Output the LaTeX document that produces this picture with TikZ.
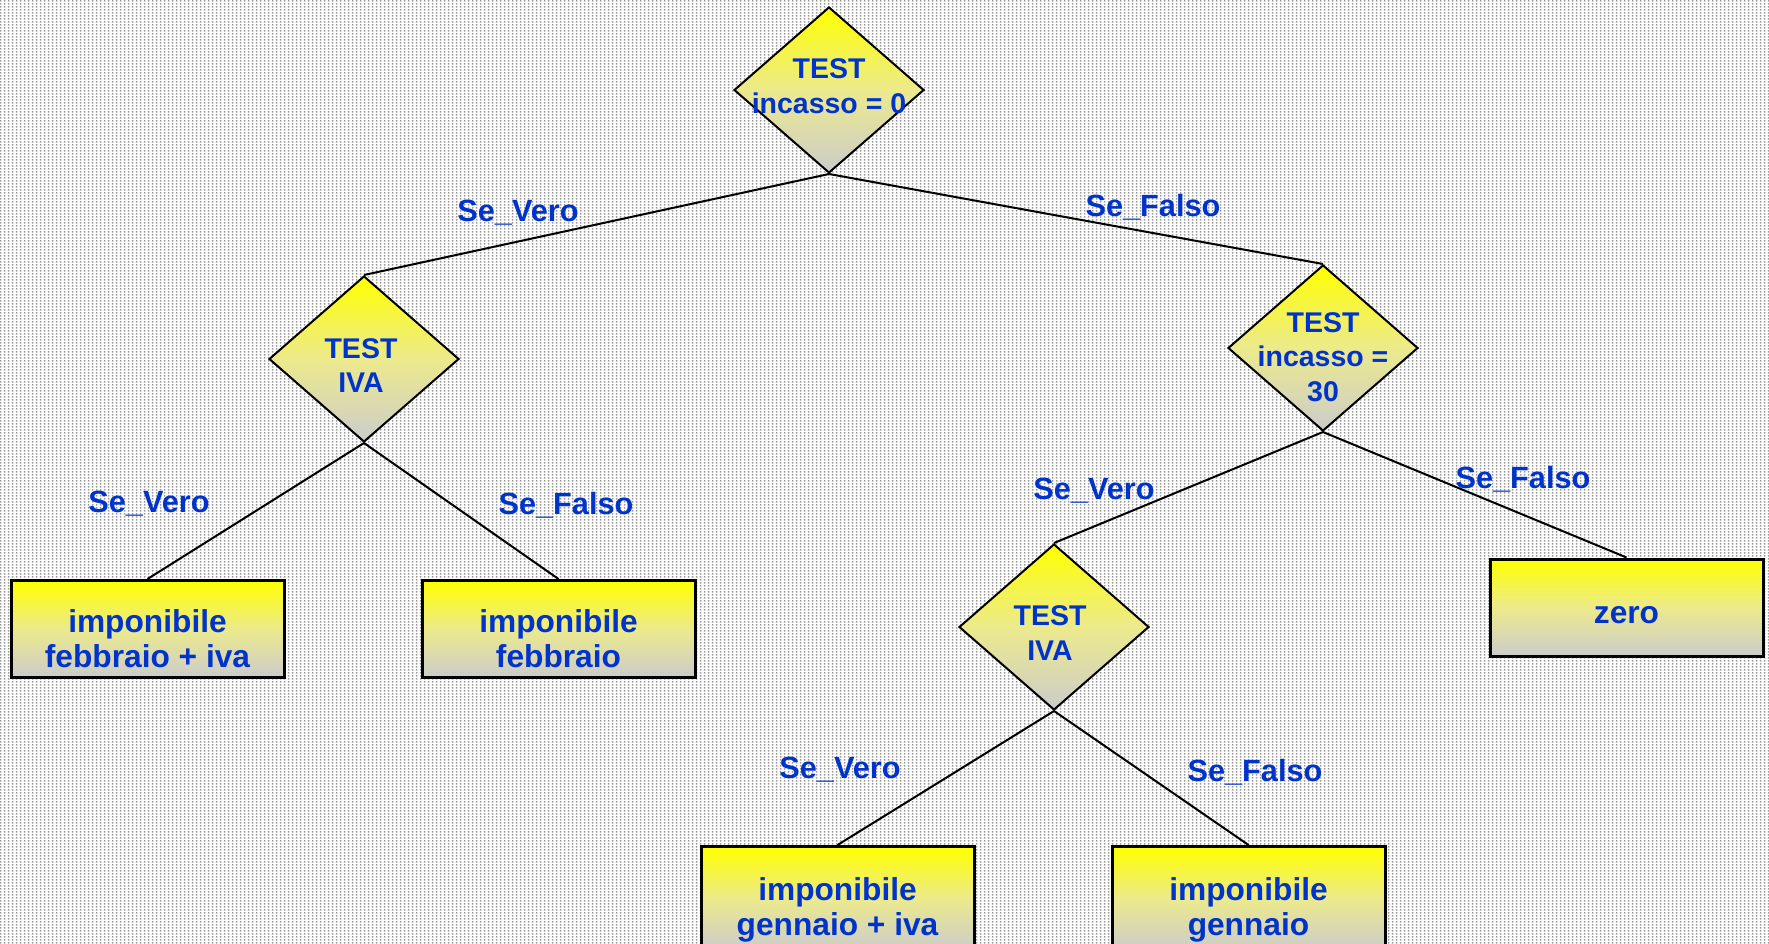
\documentclass[tikz,border=0pt]{standalone}
\usepackage{fontspec}
\setmainfont{Liberation Sans}
\usetikzlibrary{shapes.geometric,patterns}

\definecolor{txtblue}{RGB}{0,51,204}
\definecolor{shadegrey}{RGB}{204,204,204}
\definecolor{shademid}{RGB}{236,234,140}
\definecolor{dotgrey}{RGB}{153,153,153}

% small grey dots used as the sheet background
\pgfdeclarepatternformonly{bgdots}{\pgfqpoint{0pt}{0pt}}{\pgfqpoint{4pt}{3pt}}{\pgfqpoint{4pt}{3pt}}%
  {\pgfpathrectangle{\pgfqpoint{1pt}{0.5pt}}{\pgfqpoint{2pt}{2pt}}\pgfusepath{fill}}

\begin{document}
\begin{tikzpicture}[x=1pt,y=-1pt,
  shaded/.style={top color=yellow, bottom color=shadegrey, middle color=shademid},
  test/.style={diamond, draw=black, line width=2pt, shaded,
    minimum width=190pt, minimum height=166pt, inner sep=0pt},
  result/.style={rectangle, draw=black, line width=3pt, shaded,
    minimum width=273pt, minimum height=97pt, inner sep=0pt},
  testtext/.style={text=txtblue, align=center,
    font=\bfseries\fontsize{28.5pt}{34.5pt}\selectfont},
  resulttext/.style={text=txtblue, align=center,
    font=\bfseries\fontsize{31.7pt}{35pt}\selectfont},
  branch/.style={text=txtblue, anchor=base, inner sep=0pt,
    font=\bfseries\fontsize{30.7pt}{36pt}\selectfont},
  conn/.style={draw=black, line width=2pt}]

% background sheet
\fill[white] (0,0) rectangle (1769,944);
\fill[pattern=bgdots, pattern color=dotgrey] (0,0) rectangle (1769,944);
\useasboundingbox (0,0) rectangle (1769,944);

% decision diamonds
\node[test, label={[testtext, yshift=4pt]center:TEST\\incasso = 0}] (t0) at (829,90) {};
\node[test, label={[testtext, xshift=-3pt, yshift=-6.5pt]center:TEST\\IVA}] (t1) at (364,359) {};
\node[test, label={[testtext, yshift=-9pt]center:TEST\\incasso =\\30}] (t2) at (1323,348) {};
\node[test, label={[testtext, xshift=-4pt, yshift=-6pt]center:TEST\\IVA}] (t3) at (1054,627) {};

% outcome boxes
\node[result, label={[resulttext, yshift=-10pt]center:imponibile\\febbraio + iva}] (b1) at (147.5,629) {};
\node[result, label={[resulttext, yshift=-10pt]center:imponibile\\febbraio}] (b2) at (558.5,629) {};
\node[result, label={[resulttext, yshift=-7.5pt]center:zero}] (b3) at (1626.5,607.5) {};
\node[result, minimum height=104pt, label={[resulttext, yshift=-11.5pt]center:imponibile\\gennaio + iva}] (b4) at (837.5,898.5) {};
\node[result, minimum height=104pt, label={[resulttext, yshift=-11.5pt]center:imponibile\\gennaio}] (b5) at (1248.5,898.5) {};

% branches
\draw[conn] (t0.south) -- (t1.north);
\draw[conn] (t0.south) -- (t2.north);
\draw[conn] (t1.south) -- (b1.north);
\draw[conn] (t1.south) -- (b2.north);
\draw[conn] (t2.south) -- (t3.north);
\draw[conn] (t2.south) -- (b3.north);
\draw[conn] (t3.south) -- (b4.north);
\draw[conn] (t3.south) -- (b5.north);

% branch labels
\node[branch] (v0) at (518,222) {Se\_Vero};
\node[branch] (f0) at (1153,216) {Se\_Falso};
\node[branch] (v1) at (149,512) {Se\_Vero};
\node[branch] (f1) at (566,514) {Se\_Falso};
\node[branch] (v2) at (1094,499) {Se\_Vero};
\node[branch] (f2) at (1523,488) {Se\_Falso};
\node[branch] (v3) at (840,778) {Se\_Vero};
\node[branch] (f3) at (1255,781) {Se\_Falso};

\end{tikzpicture}
\end{document}
